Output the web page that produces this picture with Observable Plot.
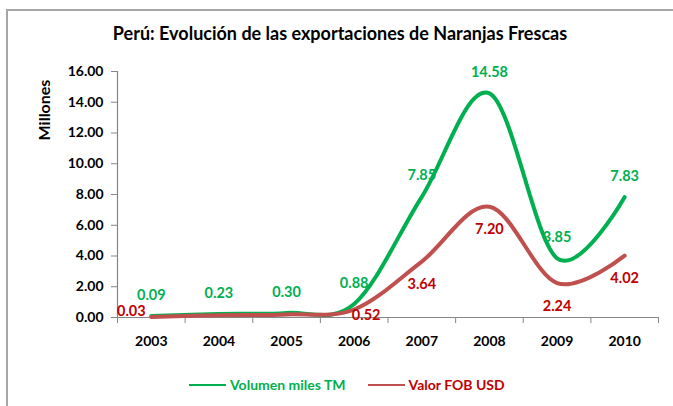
<!DOCTYPE html>
<html>
<head>
<meta charset="utf-8">
<script src="https://cdn.jsdelivr.net/npm/d3@7"></script>
<script src="https://cdn.jsdelivr.net/npm/@observablehq/plot@0.6"></script>
<style>
  html, body { margin: 0; padding: 0; background: #fff; }
  #wrap { position: relative; width: 673px; height: 406px; overflow: hidden; font-family: Lato, "Open Sans", sans-serif; }
  #frame { position: absolute; left: 6px; top: 9px; width: 700px; height: 420px; border-left: 2px solid #a6a6a6; border-top: 2px solid #a6a6a6; box-sizing: border-box; }
  #title { position: absolute; left: 6px; width: 668px; top: 22px; line-height: 22px; text-align: center; font-weight: bold; font-size: 18px; color: #000; }
  #ylabel { position: absolute; left: 43px; top: 110px; transform: translate(-50%, -50%) rotate(-90deg); font-weight: bold; font-size: 16px; white-space: nowrap; }
  #chart { position: absolute; left: 0; top: 0; }
  #legend { position: absolute; left: 189px; top: 376px; display: flex; align-items: center; font-weight: bold; font-size: 14px; white-space: nowrap; }
  .sw { display: inline-block; width: 37px; height: 2px; margin-right: 4px; }
  .item { display: flex; align-items: center; margin-right: 22px; }
</style>
</head>
<body>
<div id="wrap">
  <div id="frame"></div>
  <div id="chart"></div>
  <div id="title">Perú: Evolución de las exportaciones de Naranjas Frescas</div>
  <div id="ylabel">Millones</div>
  <div id="legend"></div>
</div>
<script>
const years = [2003, 2004, 2005, 2006, 2007, 2008, 2009, 2010];
const volumen = [0.09, 0.23, 0.30, 0.88, 7.85, 14.58, 3.85, 7.83];
const valor = [0.03, 0.15, 0.20, 0.52, 3.64, 7.20, 2.24, 4.02];
const valorLabelYears = [2003, 2006, 2007, 2008, 2009, 2010];
const yTicks = [0, 2, 4, 6, 8, 10, 12, 14, 16];
const seriesNames = ["Volumen miles TM", "Valor FOB USD"];
const lineColors = ["#00B050", "#C0504D"];
const labelColors = ["#00B050", "#C00000"];

const volData = years.map((year, i) => ({year, value: volumen[i], series: seriesNames[0]}));
const valData = years.map((year, i) => ({year, value: valor[i], series: seriesNames[1]}));
const valLabeled = valData.filter(d => valorLabelYears.includes(d.year));
const boundaries = years.map(y => y - 0.5).concat([years[years.length - 1] + 0.5]);
const fmt = d3.format(".2f");
const axisColor = "#868686";
const lblSize = 14.5;

const chart = Plot.plot({
  width: 673,
  height: 406,
  marginTop: 71,
  marginBottom: 89,
  marginLeft: 117,
  marginRight: 15,
  style: {fontFamily: "Lato, 'Open Sans', sans-serif", background: "transparent", color: "#000"},
  x: {type: "linear", domain: [boundaries[0], boundaries[boundaries.length - 1]]},
  y: {domain: [0, 16]},
  color: {domain: seriesNames, range: lineColors},
  marks: [
    Plot.axisY({ticks: yTicks, tickFormat: fmt, tickSize: 6, tickPadding: 8, stroke: axisColor, fill: "#000", fontSize: 14, fontWeight: "bold", label: null}),
    Plot.axisX({ticks: boundaries, tickSize: 6, tickFormat: () => "", stroke: axisColor, label: null}),
    Plot.axisX({ticks: years, tickSize: 0, tickPadding: 19, tickFormat: d => String(d), fill: "#000", fontSize: 14, fontWeight: "bold", label: null}),
    Plot.ruleX([boundaries[0]], {stroke: axisColor, strokeWidth: 1.2}),
    Plot.ruleY([0], {stroke: axisColor, strokeWidth: 1.2}),
    Plot.line(volData, {x: "year", y: "value", stroke: "series", strokeWidth: 4, curve: "cardinal"}),
    Plot.line(valData, {x: "year", y: "value", stroke: "series", strokeWidth: 4, curve: "cardinal"}),
    Plot.text(volData, {x: "year", y: "value", text: d => fmt(d.value), dy: -21, fill: labelColors[0], fontSize: lblSize, fontWeight: "bold"}),
    Plot.text(valLabeled.filter(d => d.year === years[0]), {x: "year", y: "value", text: d => fmt(d.value), dx: -20, dy: -6, fill: labelColors[1], fontSize: lblSize, fontWeight: "bold"}),
    Plot.text(valLabeled.filter(d => d.year === 2006), {x: "year", y: "value", text: d => fmt(d.value), dx: 12, dy: 6, fill: labelColors[1], fontSize: lblSize, fontWeight: "bold"}),
    Plot.text(valLabeled.filter(d => d.year > 2006), {x: "year", y: "value", text: d => fmt(d.value), dy: 23, fill: labelColors[1], fontSize: lblSize, fontWeight: "bold"})
  ]
});
document.getElementById("chart").appendChild(chart);

const legend = document.getElementById("legend");
seriesNames.forEach((name, i) => {
  const item = document.createElement("div");
  item.className = "item";
  const sw = document.createElement("span");
  sw.className = "sw";
  sw.style.background = lineColors[i];
  const tx = document.createElement("span");
  tx.textContent = name;
  tx.style.color = labelColors[i];
  item.appendChild(sw);
  item.appendChild(tx);
  legend.appendChild(item);
});
</script>
</body>
</html>
